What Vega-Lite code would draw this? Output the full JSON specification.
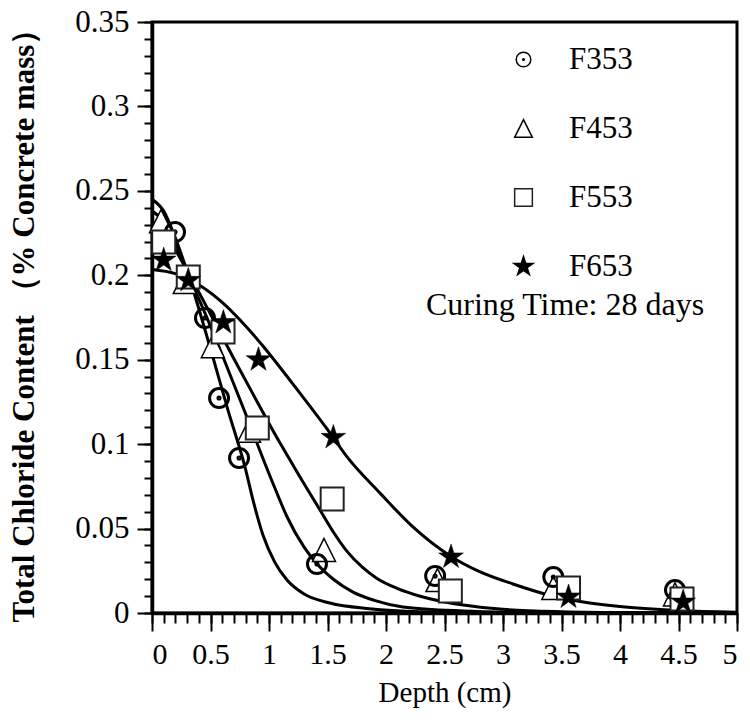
{
  "$schema": "https://vega.github.io/schema/vega-lite/v6.json",
  "width": 585,
  "height": 591,
  "autosize": "none",
  "padding": {"left": 152, "top": 22, "right": 13, "bottom": 109},
  "background": "white",
  "config": {
    "font": "Liberation Serif",
    "view": {"stroke": "black", "strokeWidth": 3},
    "axis": {"grid": false, "domainColor": "black", "domainWidth": 3.5, "tickColor": "black", "tickWidth": 2, "labelColor": "black", "titleColor": "black", "labelFont": "Liberation Serif", "titleFont": "Liberation Serif"},
    "legend": {
      "orient": "none", "legendX": 356, "legendY": 22, "padding": 0,
      "symbolSize": 400, "symbolStrokeWidth": 1.5, "labelFont": "Liberation Serif",
      "labelFontSize": 31, "labelColor": "black", "labelOffset": 30, "rowPadding": 37,
      "labelLimit": 300
    }
  },
  "datasets": {
    "curves": [
      {"curve": "A", "x": 0, "y": 0.245}, {"curve": "A", "x": 0.1, "y": 0.238}, {"curve": "A", "x": 0.2, "y": 0.222}, {"curve": "A", "x": 0.33, "y": 0.196}, {"curve": "A", "x": 0.52, "y": 0.1516}, {"curve": "A", "x": 0.65, "y": 0.12}, {"curve": "A", "x": 0.795, "y": 0.0864}, {"curve": "A", "x": 0.87, "y": 0.065}, {"curve": "A", "x": 0.949, "y": 0.046}, {"curve": "A", "x": 1.05, "y": 0.03}, {"curve": "A", "x": 1.154, "y": 0.0195}, {"curve": "A", "x": 1.3, "y": 0.0112}, {"curve": "A", "x": 1.52, "y": 0.0059}, {"curve": "A", "x": 1.86, "y": 0.0025}, {"curve": "A", "x": 2.29, "y": 0.0008}, {"curve": "A", "x": 3, "y": 0.0002}, {"curve": "A", "x": 5, "y": 0},
      {"curve": "B", "x": 0, "y": 0.238}, {"curve": "B", "x": 0.1, "y": 0.232}, {"curve": "B", "x": 0.2, "y": 0.219}, {"curve": "B", "x": 0.33, "y": 0.197}, {"curve": "B", "x": 0.45, "y": 0.178}, {"curve": "B", "x": 0.607, "y": 0.1516}, {"curve": "B", "x": 0.8, "y": 0.118}, {"curve": "B", "x": 0.94, "y": 0.093}, {"curve": "B", "x": 1.05, "y": 0.074}, {"curve": "B", "x": 1.154, "y": 0.057}, {"curve": "B", "x": 1.3, "y": 0.039}, {"curve": "B", "x": 1.419, "y": 0.0284}, {"curve": "B", "x": 1.55, "y": 0.02}, {"curve": "B", "x": 1.718, "y": 0.0124}, {"curve": "B", "x": 1.9, "y": 0.0075}, {"curve": "B", "x": 2.145, "y": 0.0036}, {"curve": "B", "x": 2.66, "y": 0.0012}, {"curve": "B", "x": 3.2, "y": 0.0004}, {"curve": "B", "x": 4, "y": 0.0001}, {"curve": "B", "x": 5, "y": 0},
      {"curve": "C", "x": 0, "y": 0.232}, {"curve": "C", "x": 0.1, "y": 0.226}, {"curve": "C", "x": 0.2, "y": 0.215}, {"curve": "C", "x": 0.33, "y": 0.199}, {"curve": "C", "x": 0.5, "y": 0.177}, {"curve": "C", "x": 0.692, "y": 0.1516}, {"curve": "C", "x": 0.9, "y": 0.125}, {"curve": "C", "x": 1.05, "y": 0.106}, {"curve": "C", "x": 1.18, "y": 0.0906}, {"curve": "C", "x": 1.265, "y": 0.0805}, {"curve": "C", "x": 1.436, "y": 0.061}, {"curve": "C", "x": 1.55, "y": 0.048}, {"curve": "C", "x": 1.667, "y": 0.0365}, {"curve": "C", "x": 1.8, "y": 0.027}, {"curve": "C", "x": 1.923, "y": 0.0205}, {"curve": "C", "x": 2.1, "y": 0.0145}, {"curve": "C", "x": 2.3, "y": 0.0098}, {"curve": "C", "x": 2.66, "y": 0.0047}, {"curve": "C", "x": 3, "y": 0.0022}, {"curve": "C", "x": 3.5, "y": 0.0008}, {"curve": "C", "x": 4.2, "y": 0.0002}, {"curve": "C", "x": 5, "y": 0},
      {"curve": "D", "x": 0, "y": 0.2035}, {"curve": "D", "x": 0.2, "y": 0.201}, {"curve": "D", "x": 0.41, "y": 0.194}, {"curve": "D", "x": 0.6, "y": 0.184}, {"curve": "D", "x": 0.8, "y": 0.17}, {"curve": "D", "x": 0.95, "y": 0.158}, {"curve": "D", "x": 1.2, "y": 0.136}, {"curve": "D", "x": 1.496, "y": 0.109}, {"curve": "D", "x": 1.667, "y": 0.0925}, {"curve": "D", "x": 1.949, "y": 0.071}, {"curve": "D", "x": 2.23, "y": 0.051}, {"curve": "D", "x": 2.556, "y": 0.0335}, {"curve": "D", "x": 2.8, "y": 0.0245}, {"curve": "D", "x": 3.085, "y": 0.0172}, {"curve": "D", "x": 3.4, "y": 0.0105}, {"curve": "D", "x": 3.66, "y": 0.0068}, {"curve": "D", "x": 4, "y": 0.0038}, {"curve": "D", "x": 4.5, "y": 0.0015}, {"curve": "D", "x": 5, "y": 0.0005}
    ],
    "points": [
      {"series": "F453", "x": 0.077, "y": 0.232}, {"series": "F453", "x": 0.28, "y": 0.196}, {"series": "F453", "x": 0.52, "y": 0.158}, {"series": "F453", "x": 0.83, "y": 0.108}, {"series": "F453", "x": 1.47, "y": 0.0373}, {"series": "F453", "x": 2.44, "y": 0.0195}, {"series": "F453", "x": 3.43, "y": 0.0148}, {"series": "F453", "x": 4.47, "y": 0.011},
      {"series": "F353", "x": 0.197, "y": 0.2256}, {"series": "F353", "x": 0.453, "y": 0.1747}, {"series": "F353", "x": 0.573, "y": 0.1273}, {"series": "F353", "x": 0.744, "y": 0.0918}, {"series": "F353", "x": 1.41, "y": 0.029}, {"series": "F353", "x": 2.42, "y": 0.0219}, {"series": "F353", "x": 3.43, "y": 0.0213}, {"series": "F353", "x": 4.47, "y": 0.0136},
      {"series": "F553", "x": 0.1, "y": 0.2197}, {"series": "F553", "x": 0.31, "y": 0.199}, {"series": "F553", "x": 0.607, "y": 0.1664}, {"series": "F553", "x": 0.9, "y": 0.1095}, {"series": "F553", "x": 1.54, "y": 0.0675}, {"series": "F553", "x": 2.55, "y": 0.013}, {"series": "F553", "x": 3.56, "y": 0.0148}, {"series": "F553", "x": 4.53, "y": 0.0083},
      {"series": "F653", "x": 0.1, "y": 0.209}, {"series": "F653", "x": 0.31, "y": 0.197}, {"series": "F653", "x": 0.61, "y": 0.172}, {"series": "F653", "x": 0.91, "y": 0.15}, {"series": "F653", "x": 1.55, "y": 0.104}, {"series": "F653", "x": 2.556, "y": 0.0332}, {"series": "F653", "x": 3.56, "y": 0.0095}, {"series": "F653", "x": 4.54, "y": 0.0065}
    ]
  },
  "layer": [
    {
      "data": {"name": "curves"},
      "mark": {"type": "line", "interpolate": "monotone", "stroke": "black", "strokeWidth": 3, "clip": true},
      "encoding": {
        "x": {"field": "x", "type": "quantitative", "scale": {"domain": [0, 5], "nice": false},
          "axis": {"orient": "bottom", "values": [0,0.1,0.2,0.3,0.4,0.5,0.6,0.7,0.8,0.9,1,1.1,1.2,1.3,1.4,1.5,1.6,1.7,1.8,1.9,2,2.1,2.2,2.3,2.4,2.5,2.6,2.7,2.8,2.9,3,3.1,3.2,3.3,3.4,3.5,3.6,3.7,3.8,3.9,4,4.1,4.2,4.3,4.4,4.5,4.6,4.7,4.8,4.9,5], "labels": false, "tickSize": 10, "domain": false, "title": null}},
        "y": {"field": "y", "type": "quantitative", "scale": {"domain": [0, 0.35], "nice": false},
          "axis": {"orient": "left", "values": [0,0.01,0.02,0.03,0.04,0.05,0.06,0.07,0.08,0.09,0.1,0.11,0.12,0.13,0.14,0.15,0.16,0.17,0.18,0.19,0.2,0.21,0.22,0.23,0.24,0.25,0.26,0.27,0.28,0.29,0.3,0.31,0.32,0.33,0.34,0.35], "labels": false, "tickSize": 8, "domain": false, "title": null}},
        "detail": {"field": "curve", "type": "nominal"}
      }
    },
    {
      "data": {"name": "points"},
      "transform": [{"filter": "datum.series === 'F453'"}],
      "mark": {"type": "point", "filled": true, "opacity": 1, "strokeWidth": 1.5},
      "encoding": {
        "x": {"field": "x", "type": "quantitative",
          "axis": {"orient": "bottom", "values": [0,0.5,1,1.5,2,2.5,3,3.5,4,4.5,5], "format": "~g", "tickSize": 18, "labelFontSize": 30, "labelPadding": 8, "title": "Depth (cm)", "titleFontSize": 29, "titleFontWeight": "normal", "titlePadding": 9}},
        "y": {"field": "y", "type": "quantitative",
          "axis": {"orient": "left", "values": [0,0.05,0.1,0.15,0.2,0.25,0.3,0.35], "format": "~g", "tickSize": 15, "labelFontSize": 31, "labelPadding": 8, "title": "Total Chloride Content （% Concrete mass）", "titleFont": "Liberation Serif", "titleFontSize": 31, "titleFontWeight": "bold", "titlePadding": 34}},
        "shape": {"field": "series", "type": "nominal", "title": null, "scale": {"domain": ["F353", "F453", "F553", "F653"], "range": ["M-0.73,0A0.73,0.73 0 1,1 0.73,0A0.73,0.73 0 1,1 -0.73,0Z M-0.08,0A0.08,0.08 0 1,1 0.08,0A0.08,0.08 0 1,1 -0.08,0Z", "M0,-0.885L0.885,0.885L-0.885,0.885Z", "M-0.885,-0.885L0.885,-0.885L0.885,0.885L-0.885,0.885Z", "M0,-1L0.2234,-0.3074L0.9511,-0.309L0.3614,0.1174L0.5878,0.809L0,0.38L-0.5878,0.809L-0.3614,0.1174L-0.9511,-0.309L-0.2234,-0.3074Z"]}},
        "fill": {"field": "series", "type": "nominal", "title": null, "scale": {"domain": ["F353", "F453", "F553", "F653"], "range": ["transparent", "white", "white", "black"]}},
        "stroke": {"field": "series", "type": "nominal", "title": null, "scale": {"domain": ["F353", "F453", "F553", "F653"], "range": ["black", "black", "#222222", "black"]}},
        "size": {"value": 676}
      }
    },
    {
      "data": {"name": "points"},
      "transform": [{"filter": "datum.series === 'F353'"}],
      "mark": {"type": "point", "filled": true, "opacity": 1, "strokeWidth": 3},
      "encoding": {
        "x": {"field": "x", "type": "quantitative", "axis": null},
        "y": {"field": "y", "type": "quantitative", "axis": null},
        "shape": {"field": "series", "type": "nominal", "title": null},
        "fill": {"field": "series", "type": "nominal", "title": null},
        "stroke": {"field": "series", "type": "nominal", "title": null},
        "size": {"value": 676}
      }
    },
    {
      "data": {"name": "points"},
      "transform": [{"filter": "datum.series === 'F553'"}],
      "mark": {"type": "point", "filled": true, "opacity": 1, "strokeWidth": 2},
      "encoding": {
        "x": {"field": "x", "type": "quantitative", "axis": null},
        "y": {"field": "y", "type": "quantitative", "axis": null},
        "shape": {"field": "series", "type": "nominal", "title": null},
        "fill": {"field": "series", "type": "nominal", "title": null},
        "stroke": {"field": "series", "type": "nominal", "title": null},
        "size": {"value": 676}
      }
    },
    {
      "data": {"name": "points"},
      "transform": [{"filter": "datum.series === 'F653'"}],
      "mark": {"type": "point", "filled": true, "opacity": 1, "strokeWidth": 0.5},
      "encoding": {
        "x": {"field": "x", "type": "quantitative", "axis": null},
        "y": {"field": "y", "type": "quantitative", "axis": null},
        "shape": {"field": "series", "type": "nominal", "title": null},
        "fill": {"field": "series", "type": "nominal", "title": null},
        "stroke": {"field": "series", "type": "nominal", "title": null},
        "size": {"value": 676}
      }
    },
    {
      "data": {"values": [{"label": "Curing Time: 28 days"}]},
      "mark": {"type": "text", "font": "Liberation Serif", "fontSize": 32, "align": "center", "baseline": "middle", "color": "black"},
      "encoding": {
        "x": {"datum": 3.53, "type": "quantitative", "axis": null},
        "y": {"datum": 0.1825, "type": "quantitative", "axis": null},
        "text": {"field": "label", "type": "nominal"}
      }
    }
  ],
  "resolve": {"axis": {"x": "independent", "y": "independent"}}
}
